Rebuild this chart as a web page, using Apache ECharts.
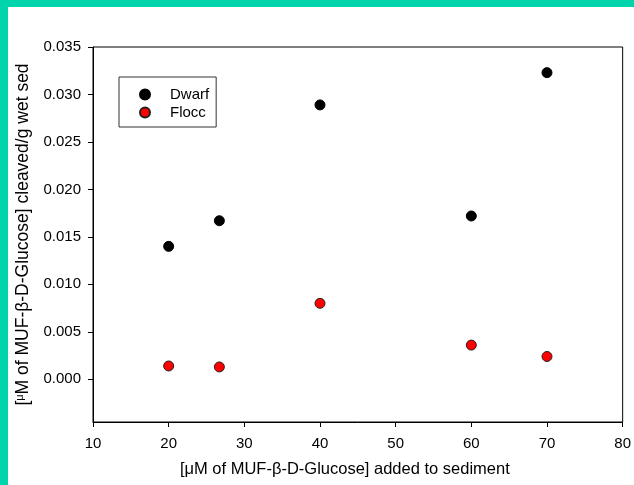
<!DOCTYPE html>
<html><head><meta charset="utf-8">
<script src="https://cdn.jsdelivr.net/npm/echarts@6/dist/echarts.min.js"></script>
<style>html,body{margin:0;padding:0;background:#fff}#c{width:634px;height:485px}</style>
</head><body><div id="c"></div>
<script>
const xConc = [20, 26.7, 40, 60, 70];
const dwarf = [0.0140, 0.0167, 0.0289, 0.0172, 0.0323];
const flocc = [0.0014, 0.0013, 0.0080, 0.0036, 0.0024];
const yTicks = [0, 0.005, 0.010, 0.015, 0.020, 0.025, 0.030, 0.035];
const xTicks = [10, 20, 30, 40, 50, 60, 70, 80];

const chart = echarts.init(document.getElementById('c'));
const font = 'Liberation Sans, Arial, sans-serif';
chart.setOption({
  backgroundColor: '#fff',
  animation: false,
  graphic: [
    {type:'rect', shape:{x:0,y:0,width:634,height:7}, style:{fill:'#00D4AA'}, z:100},
    {type:'rect', shape:{x:0,y:0,width:8,height:485}, style:{fill:'#00D4AA'}, z:100}
  ],
  grid: {left:93, top:47, right:7, bottom:63, show:true, borderColor:'#000', borderWidth:1, backgroundColor:'#fff'},
  legend: {
    left:119, top:77, orient:'vertical',
    borderColor:'#333', borderWidth:1, padding:[10,7,7,20],
    itemWidth:40, itemHeight:10, itemGap:3,
    textStyle:{fontFamily:font, fontSize:15, color:'#000'},
    data:['Dwarf','Flocc']
  },
  xAxis: {
    type:'value', min:10, max:80, interval:10,
    axisLine:{show:true, onZero:false, lineStyle:{color:'#000'}},
    axisTick:{show:true, length:5, lineStyle:{color:'#000'}},
    splitLine:{show:false},
    axisLabel:{fontFamily:font, fontSize:15, color:'#000', margin:14, showMaxLabel:true,
      customValues: xTicks},
    name:'[μM of MUF-β-D-Glucose] added to sediment',
    nameLocation:'middle', nameGap:39,
    nameTextStyle:{fontFamily:font, fontSize:16.5, color:'#000', padding:[0,26,0,0]}
  },
  yAxis: {
    type:'value', min:-0.0045, max:0.035,
    axisLine:{show:true, onZero:false, lineStyle:{color:'#000'}},
    axisTick:{show:true, length:5, lineStyle:{color:'#000'}, customValues: yTicks},
    splitLine:{show:false},
    axisLabel:{fontFamily:font, fontSize:15, color:'#000', margin:12,
      customValues: yTicks, formatter: v => v.toFixed(3)},
    name:'[{s|μ}M of MUF-β-D-Glucose] cleaved/g wet sed',
    nameLocation:'middle', nameGap:56, nameRotate:90,
    nameTextStyle:{fontFamily:font, fontSize:17.5, color:'#000',
      rich:{s:{fontFamily:font, fontSize:11, color:'#000', verticalAlign:'top', padding:[0,0,6,0]}}}
  },
  series: [
    {name:'Dwarf', type:'scatter', symbol:'circle', symbolSize:10,
     data: xConc.map((x,i)=>[x, dwarf[i]]),
     itemStyle:{color:'#000', borderColor:'#000', borderWidth:1, opacity:1}},
    {name:'Flocc', type:'scatter', symbol:'circle', symbolSize:10,
     data: xConc.map((x,i)=>[x, flocc[i]]),
     itemStyle:{color:'#FF0000', borderColor:'#222', borderWidth:1, opacity:1}}
  ]
});
</script></body></html>
